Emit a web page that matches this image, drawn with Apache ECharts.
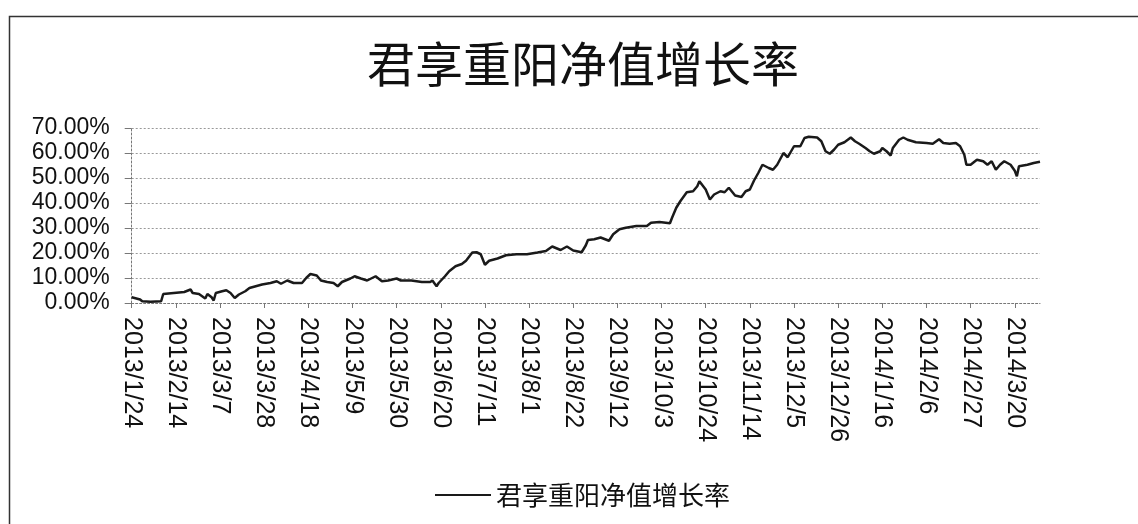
<!DOCTYPE html>
<html>
<head>
<meta charset="utf-8">
<script src="https://cdn.jsdelivr.net/npm/echarts@6/dist/echarts.min.js"></script>
<style>
html,body{margin:0;padding:0;background:#fff;}
#chart{width:1138px;height:524px;}
</style>
</head>
<body>
<div id="chart"></div>
<script>
const titleText = '君享重阳净值增长率';
const seriesName = '君享重阳净值增长率';
const axisStart = '2013/1/24';
const axisEnd = '2014/4/1';
const yTicks = [0, 10, 20, 30, 40, 50, 60, 70];

const dates = [
'2013/1/24','2013/1/28','2013/1/29','2013/2/2','2013/2/7','2013/2/8','2013/2/13','2013/2/18','2013/2/21','2013/2/22',
'2013/2/25','2013/2/28','2013/3/1','2013/3/3','2013/3/4','2013/3/5','2013/3/8','2013/3/10','2013/3/12','2013/3/14',
'2013/3/16','2013/3/19','2013/3/21','2013/3/24','2013/3/27','2013/3/31','2013/4/3','2013/4/5','2013/4/8','2013/4/11',
'2013/4/15','2013/4/17','2013/4/19','2013/4/22','2013/4/24','2013/4/27','2013/4/30','2013/5/2','2013/5/4','2013/5/8',
'2013/5/10','2013/5/13','2013/5/16','2013/5/20','2013/5/23','2013/5/26','2013/5/30','2013/6/1','2013/6/6','2013/6/11',
'2013/6/15','2013/6/16','2013/6/18','2013/6/19','2013/6/22','2013/6/24','2013/6/27','2013/6/30','2013/7/2','2013/7/5',
'2013/7/7','2013/7/9','2013/7/11','2013/7/13','2013/7/17','2013/7/21','2013/7/26','2013/7/31','2013/8/5','2013/8/9',
'2013/8/12','2013/8/16','2013/8/19','2013/8/22','2013/8/26','2013/8/28','2013/8/29','2013/9/1','2013/9/4','2013/9/8',
'2013/9/10','2013/9/13','2013/9/16','2013/9/21','2013/9/26','2013/9/28','2013/10/2','2013/10/7','2013/10/8','2013/10/10',
'2013/10/12','2013/10/15','2013/10/18','2013/10/20','2013/10/21','2013/10/24','2013/10/26','2013/10/28','2013/10/31','2013/11/2',
'2013/11/4','2013/11/7','2013/11/10','2013/11/12','2013/11/14','2013/11/16','2013/11/18','2013/11/20','2013/11/23','2013/11/25',
'2013/11/27','2013/11/30','2013/12/2','2013/12/5','2013/12/8','2013/12/10','2013/12/12','2013/12/16','2013/12/18','2013/12/20',
'2013/12/22','2013/12/24','2013/12/26','2013/12/29','2014/1/1','2014/1/3','2014/1/5','2014/1/8','2014/1/10','2014/1/12',
'2014/1/15','2014/1/16','2014/1/18','2014/1/20','2014/1/21','2014/1/24','2014/1/26','2014/1/28','2014/2/1','2014/2/6',
'2014/2/9','2014/2/12','2014/2/14','2014/2/17','2014/2/20','2014/2/22','2014/2/24','2014/2/25','2014/2/27','2014/3/2',
'2014/3/5','2014/3/7','2014/3/9','2014/3/11','2014/3/13','2014/3/15','2014/3/18','2014/3/20','2014/3/21','2014/3/22',
'2014/3/26','2014/3/29','2014/4/1'
];
const values = [
2.3,1.4,0.7,0.5,0.7,3.6,4.0,4.4,5.4,4.0,
3.6,1.8,3.6,2.3,1.0,4.0,4.7,5.1,4.0,2.0,
3.4,4.7,6.0,6.7,7.4,8.0,8.7,7.7,9.0,8.0,
8.0,10.0,11.6,11.0,9.0,8.4,8.0,6.7,8.4,9.8,
10.7,9.8,9.0,10.7,8.7,9.0,9.8,9.0,9.0,8.4,
8.4,9.0,6.7,8.0,10.7,12.7,14.7,15.6,16.9,20.2,
20.3,19.5,15.3,16.9,17.8,19.1,19.5,19.5,20.2,20.8,
22.6,21.2,22.6,21.0,20.3,23.1,25.2,25.5,26.2,24.9,
27.5,29.5,30.1,30.8,30.8,32.1,32.4,31.9,34.1,38.1,
40.8,44.3,44.7,46.7,48.7,45.4,41.4,43.4,44.7,44.3,
46.1,43.0,42.4,44.7,45.4,49.0,52.0,55.3,54.0,53.3,
55.3,60.0,58.3,62.7,62.7,66.0,66.5,66.2,64.7,60.7,
59.7,61.3,63.3,64.3,66.2,64.7,63.7,62.0,60.7,59.7,
60.7,62.0,60.7,59.0,62.0,65.3,66.2,65.3,64.3,64.0,
63.7,65.5,64.0,63.7,64.0,62.7,59.3,55.3,55.3,57.3,
56.7,55.3,56.7,53.3,55.3,56.7,55.3,52.9,50.7,54.7,
55.3,56.0,56.5
];

// calendar-day category axis (Excel date axis equivalent)
function parseD(s){const p=s.split('/').map(Number);return Date.UTC(p[0],p[1]-1,p[2]);}
function fmtD(t){const d=new Date(t);return d.getUTCFullYear()+'/'+(d.getUTCMonth()+1)+'/'+d.getUTCDate();}
const categories=[];
for(let t=parseD(axisStart);t<=parseD(axisEnd);t+=86400000){categories.push(fmtD(t));}
const seriesData = dates.map((d,i)=>[d, values[i]]);

const chart = echarts.init(document.getElementById('chart'));
chart.setOption({
  animation:false,
  backgroundColor:'#fff',
  graphic:[{type:'rect',left:7,top:14,shape:{width:1200,height:600},style:{fill:'none',stroke:'#333',lineWidth:1.5},silent:true,z:-1}],
  title:{text:titleText,left:362,top:35,textStyle:{fontFamily:'Noto Sans CJK SC',fontSize:48,fontWeight:'normal',color:'#111'}},
  legend:{data:[seriesName],left:430,top:477,icon:'rect',itemWidth:56,itemHeight:2,itemGap:4,
    textStyle:{fontFamily:'Noto Sans CJK SC',fontSize:26,color:'#111'}},
  grid:{left:131.7,right:98,top:128,bottom:221,containLabel:false},
  xAxis:{type:'category',data:categories,boundaryGap:false,
    axisLine:{lineStyle:{color:'#777',type:[2,2],width:1}},
    axisTick:{show:true,interval:20,length:5,lineStyle:{color:'#777'}},
    axisLabel:{interval:20,rotate:-90,margin:14,fontFamily:'Liberation Sans',fontSize:25,color:'#111'},
    splitLine:{show:false}},
  yAxis:{type:'value',min:yTicks[0],max:yTicks[yTicks.length-1],interval:10,
    axisLine:{show:true,lineStyle:{color:'#777',type:[2,2],width:1}},
    axisTick:{show:true,length:7,lineStyle:{color:'#777'}},
    axisLabel:{margin:22,fontFamily:'Liberation Sans',fontSize:23,color:'#111',formatter:v=>v.toFixed(2)+'%'},
    splitLine:{show:true,lineStyle:{color:'#999',type:[2,2],width:1}}},
  series:[{name:seriesName,type:'line',data:seriesData,symbol:'none',
    lineStyle:{color:'#1a1a1a',width:2.5},itemStyle:{color:'#1a1a1a'}}]
});
</script>
</body>
</html>
